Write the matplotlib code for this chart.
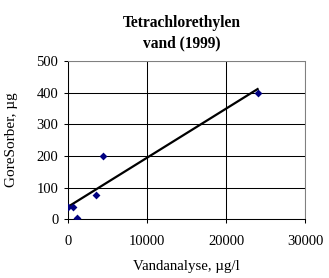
import matplotlib
matplotlib.use("Agg")
import matplotlib.pyplot as plt
import numpy as np

plt.rcParams['font.family'] = ['Liberation Serif', 'DejaVu Serif']

# Data
vand = [0, 630, 1200, 3600, 4400, 24000]       # Vandanalyse, µg/l
gore = [40, 40, 3, 78, 200, 400]                # GoreSorber, µg
xticks = [0, 10000, 20000, 30000]
yticks = [0, 100, 200, 300, 400, 500]
title = "Tetrachlorethylen\nvand (1999)"
xlabel = "Vandanalyse, µg/l"
ylabel = "GoreSorber, µg"

fig = plt.figure(figsize=(3.29, 2.78), dpi=100)
ax = fig.add_axes([68/329, 1-219.3/278, (305-68)/329, (219.3-61)/278])

ax.set_xlim(0, 30000)
ax.set_ylim(0, 500)
ax.set_xticks(xticks)
ax.set_yticks(yticks)
ax.grid(True, color='black', linewidth=0.75)
ax.set_axisbelow(True)

# linear trendline
slope, intercept = np.polyfit(vand, gore, 1)
xs = np.array([min(vand), max(vand)])
ax.plot(xs, slope*xs + intercept, color='black', linewidth=1.6, zorder=3)

ax.scatter(vand, gore, marker='D', s=16, color='#000080', zorder=4, linewidths=0)

for s in ['top', 'right']:
    ax.spines[s].set_color('#808080')
    ax.spines[s].set_linewidth(0.75)
for s in ['left', 'bottom']:
    ax.spines[s].set_color('black')
    ax.spines[s].set_linewidth(0.75)

ax.tick_params(axis='both', direction='out', length=3, width=0.75, labelsize=10.5)
ax.tick_params(axis='x', pad=8)
ax.tick_params(axis='y', pad=4)
ax.set_xticklabels([str(t) for t in xticks])
ax.set_yticklabels([str(t) for t in yticks])

fig.text(182/329, 1-33/278, title, ha='center', va='center', fontsize=11.2,
         fontweight='bold', linespacing=1.35)
fig.text(186/329, 1-266.7/278, xlabel, ha='center', va='center', fontsize=10.7)
fig.text(12/329, 1-140/278, ylabel, ha='center', va='center', fontsize=11, rotation=90)

fig.savefig("out.png", dpi=100)
